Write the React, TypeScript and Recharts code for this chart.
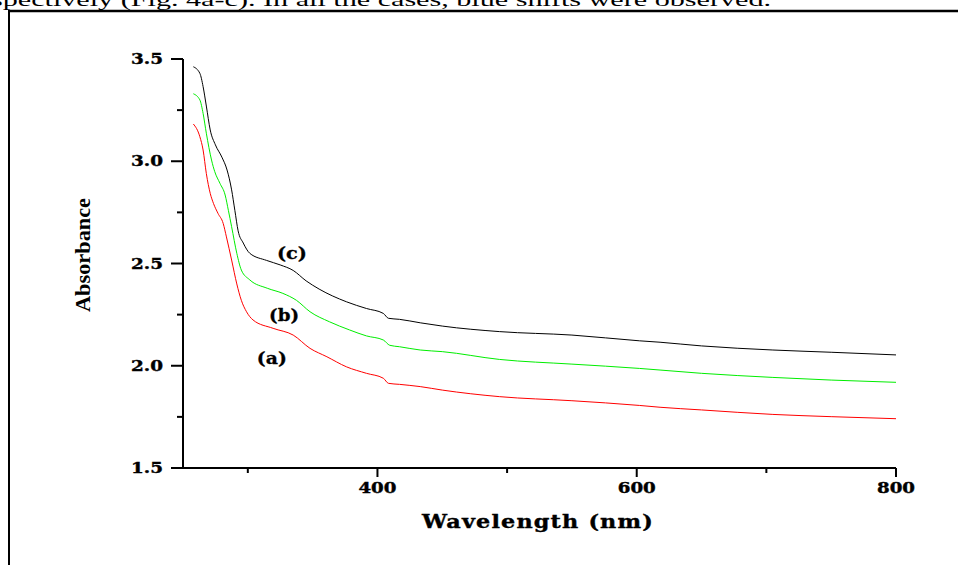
import { LineChart, Line, XAxis, YAxis, ReferenceDot } from 'recharts';

// UV-vis spectra
const wavelengthA = [258, 263, 265.5, 268, 271, 273.5, 277, 281, 283.5, 287.5, 291.5, 295, 299, 304, 319.5, 335, 348, 361, 376, 391.5, 404.5, 408.5, 417, 433, 450, 494, 550, 602, 618, 650, 705, 750, 800];
const absorbanceA = [3.182, 3.12, 3.055, 2.94, 2.843, 2.794, 2.745, 2.696, 2.63, 2.517, 2.4, 2.32, 2.264, 2.224, 2.183, 2.15, 2.085, 2.044, 1.995, 1.963, 1.939, 1.914, 1.909, 1.898, 1.881, 1.849, 1.829, 1.806, 1.797, 1.784, 1.762, 1.751, 1.741];

const wavelengthB = [258, 263, 265.5, 268, 272, 274.5, 278.5, 282.5, 285, 287.5, 291.5, 295, 301.5, 315, 327, 337.5, 348, 363, 378.5, 391.5, 404.5, 409.5, 417, 433, 450, 494, 550, 602, 618, 650, 705, 750, 800];
const absorbanceB = [3.33, 3.3, 3.234, 3.137, 3.006, 2.949, 2.892, 2.835, 2.76, 2.68, 2.55, 2.468, 2.42, 2.379, 2.354, 2.32, 2.264, 2.215, 2.175, 2.146, 2.126, 2.1, 2.093, 2.077, 2.069, 2.031, 2.008, 1.987, 1.979, 1.963, 1.943, 1.93, 1.919];

const wavelengthC = [258, 263, 265.5, 268, 271, 275, 280, 284, 287.5, 290, 292.5, 296.5, 301.5, 314.5, 325, 335, 345, 355, 376, 391.5, 404.5, 408.5, 417, 433, 450, 494, 550, 602, 618, 650, 705, 750, 800];
const absorbanceC = [3.462, 3.43, 3.365, 3.27, 3.153, 3.08, 3.02, 2.957, 2.86, 2.76, 2.66, 2.6, 2.55, 2.515, 2.493, 2.466, 2.415, 2.375, 2.313, 2.28, 2.256, 2.232, 2.227, 2.21, 2.194, 2.167, 2.15, 2.122, 2.115, 2.097, 2.077, 2.066, 2.053];

const xTicks = [300, 400, 500, 600, 700, 800];
const xLabels = [400, 600, 800];
const yTicks = [1.5, 1.75, 2, 2.25, 2.5, 2.75, 3, 3.25, 3.5];
const yLabels = [1.5, 2, 2.5, 3, 3.5];

const curveNames = ['(a)', '(b)', '(c)'];
const curveLabelX = [318.5, 328, 334];
const curveLabelY = [2.038, 2.248, 2.551];

const toPoints = (w: number[], a: number[]) => w.map((x, i) => ({ w: x, v: a[i] }));
const seriesA = toPoints(wavelengthA, absorbanceA);
const seriesB = toPoints(wavelengthB, absorbanceB);
const seriesC = toPoints(wavelengthC, absorbanceC);

const tickFont = { fontFamily: '"DejaVu Serif"', fontWeight: 900, fontSize: 15 };

function YTick({ x, y, payload }: any) {
  const major = yLabels.includes(payload.value);
  return (
    <g>
      <line x1={x - (major ? 12 : 6)} x2={x} y1={y} y2={y} stroke="#000" strokeWidth={2} />
      {major && (
        <text
          x={x - 52}
          y={y}
          dominantBaseline="central"
          textLength={32}
          lengthAdjust="spacingAndGlyphs"
          fill="#000"
          stroke="#000"
          strokeWidth={0.4}
          style={tickFont}
        >
          {payload.value.toFixed(1)}
        </text>
      )}
    </g>
  );
}

function XTick({ x, y, payload }: any) {
  const major = xLabels.includes(payload.value);
  return (
    <g>
      <line x1={x} x2={x} y1={y} y2={y + (major ? 9 : 5)} stroke="#000" strokeWidth={2} />
      {major && (
        <text
          x={x - 19}
          y={y + 20}
          dominantBaseline="central"
          textLength={38}
          lengthAdjust="spacingAndGlyphs"
          fill="#000"
          stroke="#000"
          strokeWidth={0.4}
          style={tickFont}
        >
          {payload.value}
        </text>
      )}
    </g>
  );
}

const curveLabel = (name: string) => (props: any) => (
  <text
    x={props.cx - 15}
    y={props.cy}
    dominantBaseline="central"
    textLength={30}
    lengthAdjust="spacingAndGlyphs"
    fill="#000"
    stroke="#000"
    strokeWidth={0.3}
    style={{ fontFamily: '"DejaVu Serif"', fontWeight: 700, fontSize: 17 }}
  >
    {name}
  </text>
);

export default function App() {
  return (
    <div style={{ position: 'absolute', left: 0, top: 0, width: 958, height: 565, overflow: 'hidden', background: '#fff' }}>
      <LineChart width={958} height={565} margin={{ top: 59, right: 62, bottom: 57, left: 123 }}>
        <XAxis
          type="number"
          dataKey="w"
          domain={[250, 800]}
          ticks={xTicks}
          interval={0}
          height={40}
          tickSize={0}
          tickMargin={0}
          tickLine={false}
          axisLine={{ stroke: '#000', strokeWidth: 2 }}
          tick={<XTick />}
        />
        <YAxis
          type="number"
          domain={[1.5, 3.5]}
          ticks={yTicks}
          interval={0}
          width={60}
          tickSize={0}
          tickMargin={0}
          tickLine={false}
          axisLine={{ stroke: '#000', strokeWidth: 2 }}
          tick={<YTick />}
        />
        <Line data={seriesA} dataKey="v" type="monotone" stroke="#ff0000" strokeWidth={1} dot={false} isAnimationActive={false} />
        <Line data={seriesB} dataKey="v" type="monotone" stroke="#00ee00" strokeWidth={1} dot={false} isAnimationActive={false} />
        <Line data={seriesC} dataKey="v" type="monotone" stroke="#000000" strokeWidth={1} dot={false} isAnimationActive={false} />
        {curveNames.map((name, i) => (
          <ReferenceDot key={name} x={curveLabelX[i]} y={curveLabelY[i]} r={1} shape={curveLabel(name)} />
        ))}
      </LineChart>
      <svg width={958} height={565} style={{ position: 'absolute', left: 0, top: 0, pointerEvents: 'none' }}>
        <text
          x={-9}
          y={6}
          textLength={780}
          lengthAdjust="spacingAndGlyphs"
          fill="#000"
          style={{ fontFamily: '"Liberation Serif"', fontSize: 18 }}
        >
          spectively (Fig. 4a-c). In all the cases, blue shifts were observed.
        </text>
        <line x1={8} y1={11} x2={958} y2={11} stroke="#000" strokeWidth={2.5} />
        <line x1={9} y1={11} x2={9} y2={565} stroke="#000" strokeWidth={2} />
        <text
          x={83}
          y={255}
          transform="rotate(-90 83 255)"
          textAnchor="middle"
          dominantBaseline="central"
          textLength={114}
          lengthAdjust="spacingAndGlyphs"
          fill="#000"
          style={{ fontFamily: '"Liberation Serif"', fontWeight: 700, fontSize: 20 }}
        >
          Absorbance
        </text>
        <text
          x={422}
          y={521}
          dominantBaseline="central"
          textLength={232}
          lengthAdjust="spacingAndGlyphs"
          fill="#000"
          stroke="#000"
          strokeWidth={0.4}
          style={{ fontFamily: '"DejaVu Serif"', fontWeight: 700, fontSize: 19, letterSpacing: 1 }}
        >
          Wavelength (nm)
        </text>
      </svg>
    </div>
  );
}
